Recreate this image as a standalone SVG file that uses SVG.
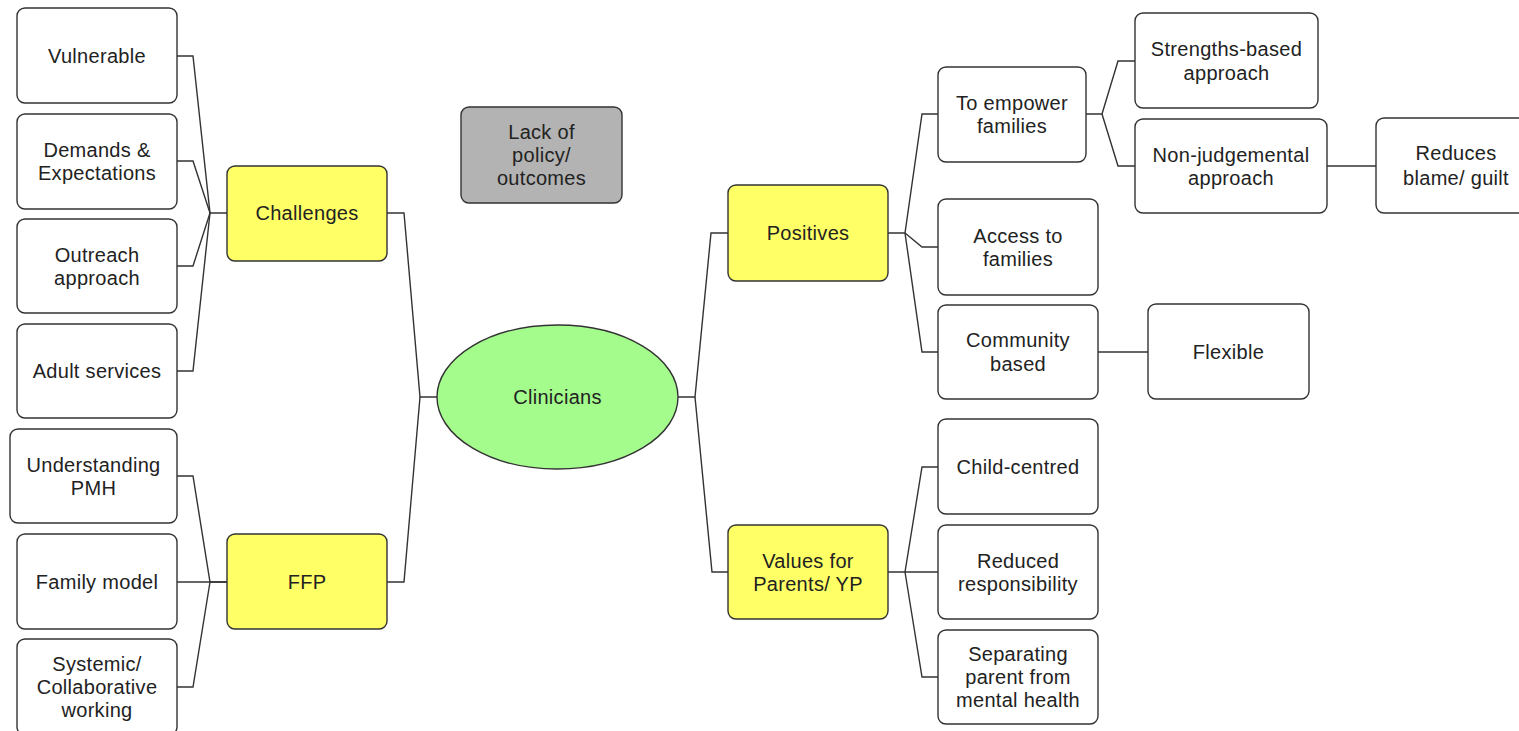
<svg xmlns="http://www.w3.org/2000/svg" width="1519" height="731" viewBox="0 0 1519 731">
<style>
.box{fill:#ffffff;stroke:#333333;stroke-width:1.4}
.yel{fill:#ffff66;stroke:#333333;stroke-width:1.4}
.gry{fill:#b3b3b3;stroke:#333333;stroke-width:1.4}
.grn{fill:#a4fc8d;stroke:#333333;stroke-width:1.4}
.con{fill:none;stroke:#333333;stroke-width:1.4;stroke-linejoin:miter}
text{font-family:"Liberation Sans",Arial,Helvetica,sans-serif;font-size:20px;fill:#222222;text-anchor:middle;letter-spacing:0.3px}
</style>
<rect width="1519" height="731" fill="#ffffff"/>
<g id="connectors">
<path class="con" d="M177,56 H193 L210,213 H227"/>
<path class="con" d="M177,161 H193 L210,213"/>
<path class="con" d="M177,266 H193 L210,213"/>
<path class="con" d="M177,371 H193 L210,213"/>
<path class="con" d="M177,476 H193 L210,582 H227"/>
<path class="con" d="M177,582 H227"/>
<path class="con" d="M177,687 H193 L210,582"/>
<path class="con" d="M387,213 H404 L420,397 H437"/>
<path class="con" d="M387,582 H404 L420,397"/>
<path class="con" d="M678,397 H695 L711,233 H728"/>
<path class="con" d="M695,397 L712,572 H728"/>
<path class="con" d="M888,233 H905 L922,114 H938"/>
<path class="con" d="M905,233 L922,247 H938"/>
<path class="con" d="M905,233 L922,352 H938"/>
<path class="con" d="M888,572 H905 L922,467 H938"/>
<path class="con" d="M905,572 H938"/>
<path class="con" d="M905,572 L922,677 H938"/>
<path class="con" d="M1086,114 H1102 L1118,61 H1135"/>
<path class="con" d="M1102,114 L1118,166 H1135"/>
<path class="con" d="M1327,166 H1376"/>
<path class="con" d="M1098,352 H1148"/>
</g>
<g id="n_vulnerable"><rect class="box" x="17" y="8" width="160" height="95" rx="8"/><text x="97" y="63">Vulnerable</text></g>
<g id="n_demands"><rect class="box" x="17" y="114" width="160" height="95" rx="8"/><text x="97" y="157">Demands &amp;</text><text x="97" y="180">Expectations</text></g>
<g id="n_outreach"><rect class="box" x="17" y="219" width="160" height="94" rx="8"/><text x="97" y="262">Outreach</text><text x="97" y="285">approach</text></g>
<g id="n_adult"><rect class="box" x="17" y="324" width="160" height="94" rx="8"/><text x="97" y="378">Adult services</text></g>
<g id="n_understanding"><rect class="box" x="10" y="429" width="167" height="94" rx="8"/><text x="93.5" y="472">Understanding</text><text x="93.5" y="495">PMH</text></g>
<g id="n_family"><rect class="box" x="17" y="534" width="160" height="95" rx="8"/><text x="97" y="589">Family model</text></g>
<g id="n_systemic"><rect class="box" x="17" y="639" width="160" height="96" rx="8"/><text x="97" y="671">Systemic/</text><text x="97" y="694">Collaborative</text><text x="97" y="717">working</text></g>
<g id="n_challenges"><rect class="yel" x="227" y="166" width="160" height="95" rx="8"/><text x="307" y="220">Challenges</text></g>
<g id="n_ffp"><rect class="yel" x="227" y="534" width="160" height="95" rx="8"/><text x="307" y="589">FFP</text></g>
<g id="n_lack"><rect class="gry" x="461" y="107" width="161" height="96" rx="8"/><text x="541.5" y="139">Lack of</text><text x="541.5" y="162">policy/</text><text x="541.5" y="185">outcomes</text></g>
<g id="n_clinicians"><ellipse class="grn" cx="557.5" cy="397" rx="120.5" ry="72"/><text x="557.5" y="404">Clinicians</text></g>
<g id="n_positives"><rect class="yel" x="728" y="185" width="160" height="96" rx="8"/><text x="808" y="240">Positives</text></g>
<g id="n_values"><rect class="yel" x="728" y="525" width="160" height="94" rx="8"/><text x="808" y="567.5">Values for</text><text x="808" y="590.5">Parents/ YP</text></g>
<g id="n_empower"><rect class="box" x="938" y="67" width="148" height="95" rx="8"/><text x="1012" y="109.5">To empower</text><text x="1012" y="132.5">families</text></g>
<g id="n_access"><rect class="box" x="938" y="199" width="160" height="96" rx="8"/><text x="1018" y="242.5">Access to</text><text x="1018" y="265.5">families</text></g>
<g id="n_community"><rect class="box" x="938" y="305" width="160" height="94" rx="8"/><text x="1018" y="347">Community</text><text x="1018" y="370.5">based</text></g>
<g id="n_child"><rect class="box" x="938" y="419" width="160" height="95" rx="8"/><text x="1018" y="474">Child-centred</text></g>
<g id="n_reduced"><rect class="box" x="938" y="525" width="160" height="94" rx="8"/><text x="1018" y="567.5">Reduced</text><text x="1018" y="590.5">responsibility</text></g>
<g id="n_separating"><rect class="box" x="938" y="630" width="160" height="94" rx="8"/><text x="1018" y="661">Separating</text><text x="1018" y="684">parent from</text><text x="1018" y="707">mental health</text></g>
<g id="n_strengths"><rect class="box" x="1135" y="13" width="183" height="95" rx="8"/><text x="1226.5" y="56">Strengths-based</text><text x="1226.5" y="80">approach</text></g>
<g id="n_nonjudge"><rect class="box" x="1135" y="119" width="192" height="94" rx="8"/><text x="1231" y="162">Non-judgemental</text><text x="1231" y="185">approach</text></g>
<g id="n_reduces"><rect class="box" x="1376" y="118" width="160" height="95" rx="8"/><text x="1456" y="160">Reduces</text><text x="1456" y="185">blame/ guilt</text></g>
<g id="n_flexible"><rect class="box" x="1148" y="304" width="161" height="95" rx="8"/><text x="1228.5" y="358.5">Flexible</text></g>
</svg>
